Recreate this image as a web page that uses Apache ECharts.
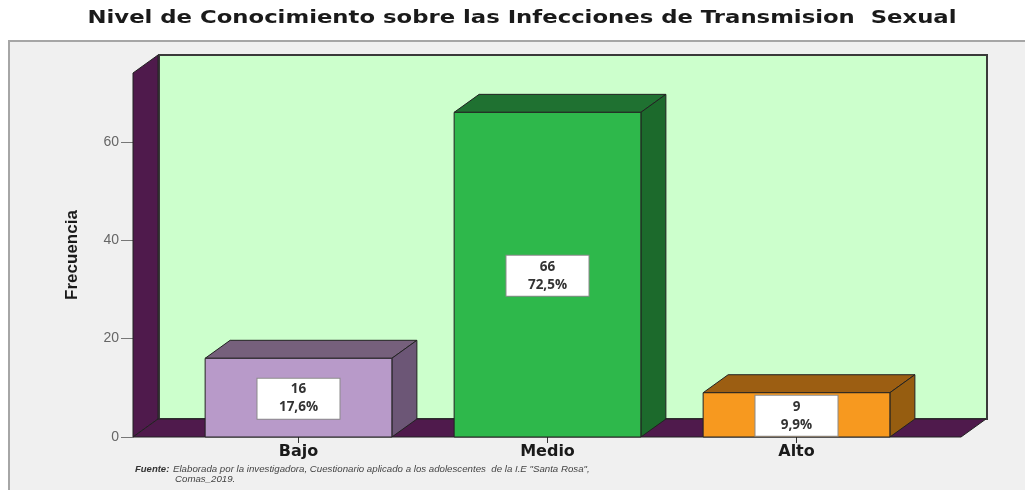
<!DOCTYPE html>
<html>
<head>
<meta charset="utf-8">
<script src="https://cdn.jsdelivr.net/npm/echarts@6/dist/echarts.min.js"></script>
<style>
html,body{margin:0;padding:0;background:#fff;}
#chart{width:1025px;height:490px;}
</style>
</head>
<body>
<div id="chart"></div>
<script>
// ---- data ----
const categories = ['Bajo', 'Medio', 'Alto'];
const counts = [16, 66, 9];
const percents = ['17,6%', '72,5%', '9,9%'];
const yTickValues = [0, 20, 40, 60];
const yMax = 74;
const titleText = 'Nivel de Conocimiento sobre las Infecciones de Transmision  Sexual';
const yName = 'Frecuencia';
const sourceBold = 'Fuente:';
const sourceLine1 = 'Elaborada por la investigadora, Cuestionario aplicado a los adolescentes  de la I.E "Santa Rosa",';
const sourceLine2 = 'Comas_2019.';

// ---- styles ----
const frontColors = ['#b89ac9', '#2eb84b', '#f7991f'];
const topColors = ['#76607c', '#1f7131', '#9c5e12'];
const sideColors = ['#6c5676', '#1c6a2c', '#965d10'];
const wallColor = '#4f1a4c';
const backColor = '#ccffcc';
const DX = 25, DY = -18;

const chart = echarts.init(document.getElementById('chart'), null, {renderer: 'canvas'});

// measure title for stretched look
const mctx = document.createElement('canvas').getContext('2d');
const titleFont = 'bold 16px "DejaVu Sans"';
mctx.font = titleFont;
const titleScale = 869 / mctx.measureText(titleText).width;

function renderWalls(params, api) {
  const cs = params.coordSys;
  const L = cs.x - 41, R = cs.x + cs.width + 40;
  const T = cs.y, B = cs.y + cs.height;
  return {
    type: 'group',
    children: [
      {type: 'rect', shape: {x: L + DX + 1, y: T + DY, width: R - L, height: B - T},
       style: {fill: backColor, stroke: '#3a3a3a', lineWidth: 2}},
      {type: 'polygon', shape: {points: [[L, B], [L, T], [L + DX, T + DY], [L + DX, B + DY]]},
       style: {fill: wallColor, stroke: '#222', lineWidth: 1}},
      {type: 'polygon', shape: {points: [[L, B], [R, B], [R + DX, B + DY], [L + DX, B + DY]]},
       style: {fill: wallColor, stroke: '#222', lineWidth: 1}}
    ]
  };
}

function renderBar(params, api) {
  const i = params.dataIndex;
  const cat = api.value(0), v = api.value(1);
  const p0 = api.coord([cat, 0]);
  const p1 = api.coord([cat, v]);
  const bw = api.size([1, 0])[0] * 0.75;
  const x0 = p0[0] - bw / 2, x1 = p0[0] + bw / 2;
  const yb = p0[1], yt = p1[1];
  return {
    type: 'group',
    children: [
      {type: 'polygon', shape: {points: [[x0, yt], [x1, yt], [x1 + DX, yt + DY], [x0 + DX, yt + DY]]},
       style: {fill: topColors[i], stroke: '#222', lineWidth: 1}},
      {type: 'polygon', shape: {points: [[x1, yb], [x1, yt], [x1 + DX, yt + DY], [x1 + DX, yb + DY]]},
       style: {fill: sideColors[i], stroke: '#222', lineWidth: 1}},
      {type: 'rect', shape: {x: x0, y: yt, width: bw, height: yb - yt},
       style: {fill: frontColors[i], stroke: '#222', lineWidth: 1}},
      {type: 'text', x: p0[0], y: (yb + yt) / 2 + 1,
       style: {text: counts[i] + '\n' + percents[i], align: 'center', verticalAlign: 'middle',
               textAlign: 'center', textVerticalAlign: 'middle',
               font: 'bold 13.5px "Open Sans", "Liberation Sans", sans-serif', fill: '#333',
               lineHeight: 18, width: 82, backgroundColor: '#ffffff', borderColor: '#8a8a8a',
               borderWidth: 1, padding: [2, 0, 2, 0]}}
    ]
  };
}

const option = {
  animation: false,
  backgroundColor: '#ffffff',
  graphic: [
    {type: 'rect', z: -100, shape: {x: 9, y: 41, width: 1040, height: 470},
     style: {fill: '#f0f0f0', stroke: '#a6a6a6', lineWidth: 2}},
    {type: 'text', x: 522, y: 19, scaleX: titleScale, scaleY: 1.05,
     style: {text: titleText, font: titleFont, fill: '#1a1a1a', align: 'center', verticalAlign: 'middle',
             textAlign: 'center', textVerticalAlign: 'middle'}},
    {type: 'text', x: 135, y: 469,
     style: {text: sourceBold, font: 'italic bold 9.5px "Liberation Sans", sans-serif', fill: '#333',
             verticalAlign: 'middle', textVerticalAlign: 'middle'}},
    {type: 'text', x: 173, y: 469,
     style: {text: sourceLine1, font: 'italic 9.7px "Liberation Sans", sans-serif', fill: '#444',
             verticalAlign: 'middle', textVerticalAlign: 'middle'}},
    {type: 'text', x: 175, y: 479,
     style: {text: sourceLine2, font: 'italic 9.7px "Liberation Sans", sans-serif', fill: '#444',
             verticalAlign: 'middle', textVerticalAlign: 'middle'}}
  ],
  grid: {left: 174, right: 104, top: 73, bottom: 53, containLabel: false},
  xAxis: {
    type: 'category',
    data: categories,
    boundaryGap: true,
    axisLine: {show: false},
    axisTick: {show: true, alignWithLabel: true, length: 6, lineStyle: {color: '#333', width: 1}},
    axisLabel: {margin: 7, color: '#1a1a1a', fontWeight: 'bold', fontSize: 16,
                fontFamily: '"DejaVu Sans", sans-serif'},
    splitLine: {show: false}
  },
  yAxis: {
    type: 'value',
    min: 0,
    max: yMax,
    interval: 20,
    offset: 41,
    name: yName,
    nameLocation: 'middle',
    nameRotate: 90,
    nameGap: 52,
    nameTextStyle: {fontWeight: 'bold', fontSize: 17, color: '#1a1a1a',
                    fontFamily: '"Liberation Sans Narrow", "Liberation Sans", sans-serif'},
    axisLine: {show: false},
    axisTick: {show: true, length: 12, customValues: yTickValues, lineStyle: {color: '#777'}},
    axisLabel: {margin: 14, customValues: yTickValues, color: '#666', fontSize: 14,
                fontFamily: '"Liberation Sans", sans-serif'},
    splitLine: {show: false}
  },
  series: [
    {type: 'custom', z: 1, silent: true, renderItem: renderWalls, data: [[0, 0]], clip: false},
    {type: 'custom', z: 2, silent: true, renderItem: renderBar, clip: false,
     data: categories.map((c, i) => [i, counts[i]])}
  ]
};
chart.setOption(option);
</script>
</body>
</html>
